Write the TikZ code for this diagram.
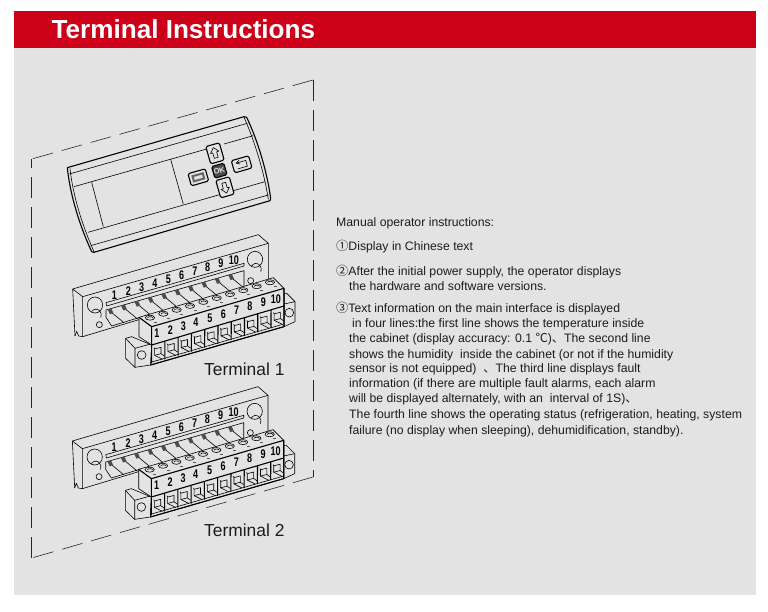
\documentclass[tikz,border=0pt]{standalone}
\usepackage{fontspec}
\usepackage{graphicx}
\setmainfont{Liberation Sans}
\newfontfamily\cjkf{Noto Sans CJK SC}
\definecolor{panelbg}{HTML}{E3E3E3}
\definecolor{bannerred}{HTML}{CC0018}
\definecolor{inkc}{HTML}{1C1C1C}
\tikzset{
  bodytext/.style={anchor=base west,inner sep=0pt,yshift=-.8pt,font=\fontsize{12.25}{14}\selectfont,text=inkc},
  termlabel/.style={anchor=base west,inner sep=0pt,font=\fontsize{17.4}{19}\selectfont,text=inkc},
  ln/.style={draw=black,line width=.6pt,line join=round},
  heavy/.style={draw=black,line width=1.1pt,line join=round},
  digit/.style={inner sep=0pt,font=\bfseries\fontsize{12.5}{13}\selectfont,text=black},
  framedash/.style={draw=black!85,line width=.6pt,dash pattern=on 21pt off 9pt},
  btn/.style={draw=black,line width=1.1pt,rounded corners=1.5pt,fill=panelbg}
}
\newcommand{\digitbox}[1]{\scalebox{.72}[1]{#1}}
\newcommand{\terminalblock}[3]{%
\begin{scope}[shift={(#1,#2)},scale=1/3]
  % plate
  \fill[panelbg] (38,177) -- (595,14) -- (625,40) -- (625,200) -- (240,300) -- (68,320) -- (45,318) -- cycle;
  \draw[ln] (45,318) -- (38,177) -- (595,14) -- (625,40) -- (625,160);
  \draw[ln] (38,177) -- (68,200) -- (625,40);
  \draw[ln] (68,200) -- (68,320) -- (240,268);
  \draw[ln] (45,318) -- (50,304) -- (56,318) -- (68,320);
  \draw[ln,fill=panelbg] (138,218) -- (552,100) -- (552,108) -- (140,228) -- cycle;
  \draw[ln] (138,240) -- (552,122) -- (552,170);
  \draw[ln] (138,240) -- (138,262) -- (155,288) -- (240,262);
  \foreach \i [evaluate=\i as \x using 148+40.2*\i, evaluate=\i as \y using 243-11.4*\i] in {0,...,9} {
    \draw[ln] (\x+5,\y+3) -- (\x+45,\y+36);
    \fill[black!70] (\x-5,\y-5) -- (\x+6,\y-8) -- (\x+12,\y+6) -- (\x+2,\y+10) -- cycle;
  }
  \draw[ln] (105,225) circle[x radius=23,y radius=24];
  \draw[ln] (95,245) arc[start angle=215,end angle=385,x radius=16,y radius=18];
  \draw[ln] (585,88) circle[x radius=23,y radius=24];
  \draw[ln] (575,108) arc[start angle=215,end angle=385,x radius=16,y radius=18];
  \draw[ln] (118,284) circle[radius=9];
  \draw[ln] (572,152) circle[radius=9];
  \foreach \i/\x/\y in {1/163/195,2/205/183,3/245/171,4/285/159,5/325/147,6/365/136,7/405/124,8/443/113,9/483/101,10/522/90}
    \node[digit] (#3p\i) at (\x,\y) {\digitbox{\i}};
  % right flange
  \draw[ln,fill=panelbg] (672,190) -- (680,190) -- (705,215) -- (705,275) -- (672,290) -- cycle;
  \draw[ln] (672,222) -- (705,215);
  \draw[ln] (688,248) circle[radius=13];
  % left flange
  \draw[ln,fill=panelbg] (197,325) -- (215,320) -- (275,345) -- (272,405) -- (225,412) -- (197,385) -- cycle;
  \draw[ln] (197,325) -- (225,355) -- (225,412);
  \draw[ln] (225,355) -- (272,342);
  \draw[ln] (245,375) circle[radius=13];
  % block
  \draw[ln,fill=panelbg] (237,262) -- (640,143) -- (672,175) -- (672,290) -- (272,405) -- (275,345) -- (237,320) -- cycle;
  \draw[heavy] (237,262) -- (275,290) -- (672,175);
  \draw[heavy] (275,290) -- (275,345) -- (672,228);
  \draw[heavy] (272,405) -- (672,290) -- (672,175);
  \draw[ln] (272,397) -- (672,282);
  \foreach \i [evaluate=\i as \x using 270+40*\i, evaluate=\i as \y using 263-11.8*\i] in {0,...,9} {
    \draw[ln] (\x,\y) ellipse[x radius=14,y radius=7.5];
    \draw[ln] (\x-7,\y+1) arc[start angle=180,end angle=360,x radius=8,y radius=4];
    \fill[black!65] (\x+11,\y+12) rectangle (\x+20,\y+15);
  }
  \foreach \i/\x/\y in {1/291/311,2/331/300,3/370/288,4/408/277,5/450/265,6/490/254,7/530/242,8/570/230,9/610/218,10/648/207}
    \node[digit] (#3b\i) at (\x,\y) {\digitbox{\i}};
  \foreach \i [evaluate=\i as \x using 275+39.8*\i, evaluate=\i as \y using 345-11.7*\i] in {0,...,9} {
    \draw[heavy] (\x,\y) -- (\x-.3,\y+55);
    \draw[ln] (\x+9,\y+12) -- (\x+28,\y+7) -- (\x+28,\y+26) -- (\x+9,\y+31) -- cycle;
    \draw[ln] (\x+7,\y+8) -- (\x+9,\y+12);
    \draw[ln] (\x+9,\y+31) -- (\x+33,\y+43);
    \draw[ln] (\x+28,\y+26) -- (\x+38,\y+33);
  }
\end{scope}}
\begin{document}
\begin{tikzpicture}[x=1pt,y=-1pt]
\useasboundingbox (0,0) rectangle (768,612);
\fill[white] (0,0) rectangle (768,612);
\fill[panelbg] (14,48) rectangle (756,595);
\fill[bannerred] (14,11) rectangle (756,48);
\node[anchor=base west,inner sep=0pt,text=white,font=\bfseries\fontsize{26.1}{28}\selectfont] (title) at (51.5,38.8) {Terminal Instructions};
% dashed enclosure
\coordinate (ftl) at (31.7,159);
\coordinate (ftr) at (313,80);
\coordinate (fbr) at (313,477);
\coordinate (fbl) at (31.7,558);
\draw[framedash] (ftr) -- (ftl);
\draw[framedash] (ftr) -- (fbr);
\draw[framedash] (fbr) -- (fbl);
\draw[framedash] (fbl) -- (ftl);
% panel
\begin{scope}[shift={(20,70)},scale=1/3]
  \draw[heavy,fill=panelbg] (142,293) -- (672,140) -- (680,142) .. controls (715,215) and (742,310) .. (752,385) -- (750,392) -- (222,547) -- (215,545) .. controls (180,470) and (150,375) .. (142,293) -- cycle;
  \draw[ln] (150,295) .. controls (158,375) and (188,470) .. (222,545);
  \draw[ln] (672,142) .. controls (705,215) and (733,310) .. (745,388);
  \draw[ln] (148,312) -- (682,160);
  \draw[ln] (162,350) -- (560,237);
  \draw[ln] (612,222) -- (700,197);
  \draw[ln] (204,487) -- (735,335);
  \draw[ln] (212,527) -- (745,375);
  \draw[ln] (215,337) -- (250,470);
  \draw[ln] (452,268) -- (490,403);
  \begin{scope}[shift={(585,250)},rotate=16]
    \draw[btn] (-21,-27) rectangle (21,27);
    \draw[ln] (0,-18) -- (13,-3) -- (6,-3) -- (6,14) -- (-6,14) -- (-6,-3) -- (-13,-3) -- cycle;
  \end{scope}
  \begin{scope}[shift={(615,352)},rotate=16]
    \draw[btn] (-21,-27) rectangle (21,27);
    \draw[ln] (0,18) -- (13,3) -- (6,3) -- (6,-14) -- (-6,-14) -- (-6,3) -- (-13,3) -- cycle;
  \end{scope}
  \begin{scope}[shift={(535,322)},rotate=16]
    \draw[btn] (-27,-19) rectangle (27,19);
    \draw[line width=2pt,black!60] (-16,-8) rectangle (16,8);
  \end{scope}
  \begin{scope}[shift={(665,283)},rotate=16]
    \draw[btn] (-27,-19) rectangle (27,19);
    \draw[ln] (-15,-8) -- (15,-8) -- (15,10) -- (-15,10);
    \draw[ln] (-4,-14) -- (-15,-8) -- (-4,-2);
  \end{scope}
  \begin{scope}[shift={(598,302)},rotate=16]
    \draw[btn,fill=black!70] (-19,-18) rectangle (19,18);
  \end{scope}
  \node[inner sep=0pt,rotate=16,text=panelbg,font=\bfseries\fontsize{7.5}{8}\selectfont] (oklabel) at (598,302) {OK};
\end{scope}
\terminalblock{60}{230}{ta}
\terminalblock{59.7}{382}{tb}
\node[termlabel] (t1) at (204,375) {Terminal 1};
\node[termlabel] (t2) at (204,536) {Terminal 2};
% text
\node[bodytext] (l1) at (336,226) {Manual operator instructions:};
\node[bodytext] (l2) at (336,250) {{\cjkf ①}Display in Chinese text};
\node[bodytext] (l3) at (336,275) {{\cjkf ②}After the initial power supply, the operator displays};
\node[bodytext] (l4) at (349,290) {the hardware and software versions.};
\node[bodytext] (l5) at (336,312) {{\cjkf ③}Text information on the main interface is displayed};
\node[bodytext] (l6) at (352,327) {in four lines:the first line shows the temperature inside};
\node[bodytext] (l7) at (349,342) {the cabinet (display accuracy: 0.1 {\cjkf ℃}){\cjkf 、}The second line};
\node[bodytext] (l8) at (349,358) {shows the humidity\ \ inside the cabinet (or not if the humidity};
\node[bodytext] (l9) at (349,372) {sensor is not equipped)\ \ {\cjkf 、}The third line displays fault};
\node[bodytext] (l10) at (349,387) {information (if there are multiple fault alarms, each alarm};
\node[bodytext] (l11) at (349,402) {will be displayed alternately, with an\ \ interval of 1S){\cjkf 、}};
\node[bodytext] (l12) at (349,418) {The fourth line shows the operating status (refrigeration, heating, system};
\node[bodytext] (l13) at (349,434) {failure (no display when sleeping), dehumidification, standby).};
\end{tikzpicture}
\end{document}
